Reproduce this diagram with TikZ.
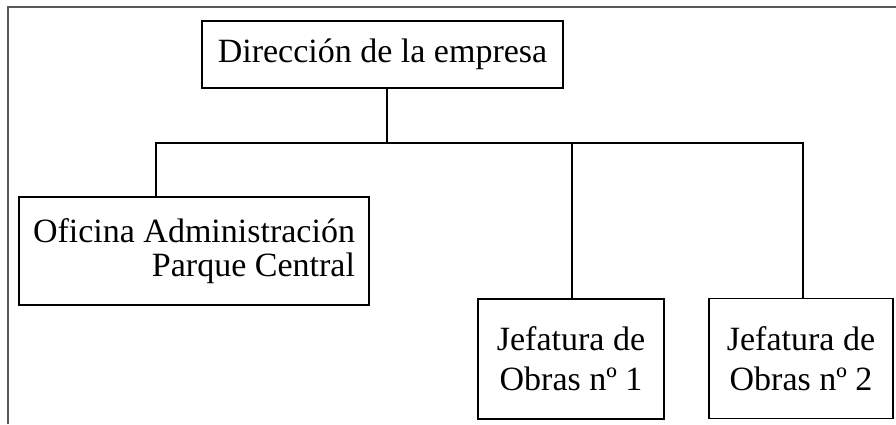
\documentclass[tikz,border=0pt]{standalone}
\usepackage{fontspec}
\setmainfont{Liberation Serif}
\begin{document}
\begin{tikzpicture}[x=1pt,y=-1pt,
  box/.style={draw=black,line width=1.6pt,inner sep=0pt,font=\fontsize{34}{38}\selectfont},
  conn/.style={draw=black,line width=1.6pt},
  frame/.style={draw=gray!70!black,line width=1.5pt}]
\useasboundingbox (0,0) rectangle (896,424);
\draw[frame] (8,424) -- (8,7) -- (896,7);
\node[box,minimum width=361pt,minimum height=67pt] (top) at (382.5,54.5) {Dirección de la empresa};
\node[box,minimum width=350pt,minimum height=108pt,align=right,font=\fontsize{34}{34}\selectfont] (ofi) at (194,251) {Oficina Administración\\Parque Central};
\node[box,minimum width=186pt,minimum height=120pt,align=center,font=\fontsize{34}{40}\selectfont] (j1) at (571,359) {Jefatura de\\Obras nº 1};
\node[box,minimum width=184pt,minimum height=120pt,align=center,font=\fontsize{34}{40}\selectfont] (j2) at (801,358.5) {Jefatura de\\Obras nº 2};
\coordinate (b0) at (387,143);
\coordinate (bl) at (156,143);
\coordinate (b1) at (572,143);
\coordinate (b2) at (803,143);
\draw[conn] (b0 |- top.south) -- (b0);
\draw[conn] (bl |- ofi.north) -- (bl) -- (b2) -- (b2 |- j2.north);
\draw[conn] (b1) -- (b1 |- j1.north);
\end{tikzpicture}
\end{document}
